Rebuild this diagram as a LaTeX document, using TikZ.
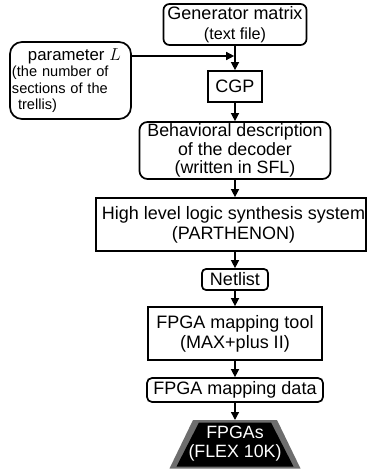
\documentclass[tikz,border=0pt]{standalone}
\usepackage{fontspec}
\setmainfont{Liberation Sans}
\usetikzlibrary{arrows.meta}
\definecolor{trapgray}{RGB}{110,110,110}
\begin{document}
\begin{tikzpicture}[x=1pt,y=-1pt,
  box/.style={draw, line width=1.7pt, inner sep=0pt, align=center, font=\fontsize{18}{20}\selectfont},
  arr/.style={line width=1.4pt, -{Triangle[length=8pt,width=8pt]}}]
\useasboundingbox (0,0) rectangle (367,469);
\node[box, rounded corners=6pt, minimum width=143pt, minimum height=41pt] (gen) at (235,24.5)
  {Generator matrix\\{\fontsize{16.2}{18}\selectfont (text file)}};
\node[box, rounded corners=12pt, minimum width=121pt, minimum height=77pt, text width=117pt, inner xsep=2pt, align=left,
  font=\fontsize{14.6}{16.4}\selectfont] (param) at (70.5,80.5)
  {\hspace*{16pt}{\fontsize{16.8}{17}\selectfont parameter $L$}\\(the number of\\sections of the\\\hspace*{6pt}trellis)};
\node[box, minimum width=54pt, minimum height=31pt] (cgp) at (235,86.5) {CGP};
\node[box, rounded corners=8pt, minimum width=191pt, minimum height=57pt, font=\fontsize{17.8}{18.6}\selectfont] (beh) at (235,150.5)
  {Behavioral description\\of the decoder\\(written in SFL)};
\node[box, minimum width=270pt, minimum height=53pt] (hl) at (231,224.5)
  {\hspace*{5pt}High level logic synthesis system\\\hspace*{5pt}(PARTHENON)};
\node[box, rounded corners=4pt, minimum width=66pt, minimum height=21pt] (net) at (235,279.5) {Netlist};
\node[box, minimum width=174pt, minimum height=53pt] (tool) at (235,333.5)
  {FPGA mapping tool\\(MAX+plus II)};
\node[box, rounded corners=5pt, minimum width=176pt, minimum height=24pt] (data) at (235,390) {FPGA mapping data};
% FPGA trapezoid
\path[fill=trapgray] (193,420) -- (277,420) -- (300.5,468.5) -- (169.5,468.5) -- cycle;
\path[fill=black] (199,422.5) -- (271,422.5) -- (293.5,466.5) -- (176.5,466.5) -- cycle;
\coordinate (ftop) at (235,420);
\node[inner sep=0pt, align=center, text=white, font=\fontsize{17.8}{19}\selectfont] (fpga) at (235,444) {FPGAs\\(FLEX 10K)};
% connectors
\coordinate (j) at (235,56);
\draw[arr] (param.east |- j) -- ([xshift=-0.8pt]j);
\draw[arr] (gen.south) -- (cgp.north);
\draw[arr] (cgp.south) -- (beh.north);
\draw[arr] (beh.south) -- (beh.south |- hl.north);
\draw[arr] (net.north |- hl.south) -- (net.north);
\draw[arr] (net.south) -- (tool.north);
\draw[arr] (tool.south) -- (data.north);
\draw[arr] (data.south) -- (ftop);
\end{tikzpicture}
\end{document}
